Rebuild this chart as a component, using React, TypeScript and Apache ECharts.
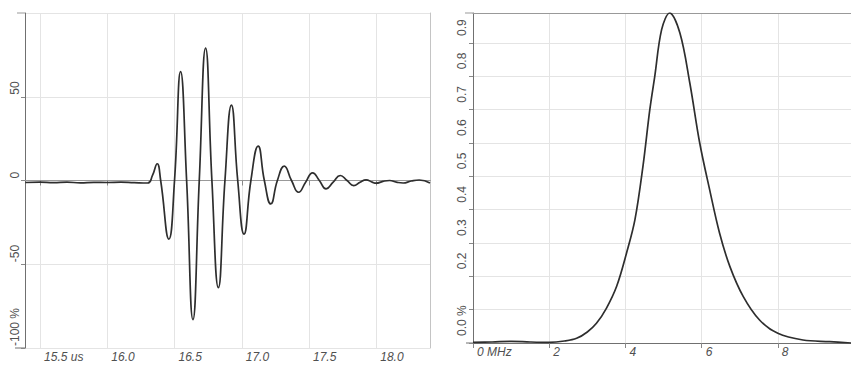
import React, { useEffect, useRef } from "react";
import * as echarts from "echarts";

// Left panel: pulse waveform (time in us, amplitude in %)
const waveTime = [
  15.39, 15.5, 15.6, 15.7, 15.8, 15.9, 16.0, 16.1, 16.2, 16.3,
  16.336, 16.371, 16.397, 16.458, 16.5, 16.545, 16.59, 16.637, 16.684, 16.731,
  16.778, 16.826, 16.875, 16.923, 16.97, 17.017, 17.068, 17.122, 17.168, 17.216,
  17.265, 17.316, 17.37, 17.423, 17.475, 17.527, 17.577, 17.627, 17.68, 17.733,
  17.783, 17.833, 17.88, 17.925, 17.97, 18.0, 18.05, 18.1, 18.15, 18.2,
  18.26, 18.32, 18.4,
];
const waveAmp = [
  -1.2, -1.0, -1.3, -1.0, -1.4, -1.1, -1.2, -1.0, -1.3, -1.5,
  3, 10, 0, -35, 0, 65, 0, -83, 0, 79,
  0, -64, 0, 45, 0, -32, 0, 20.5, 0, -14,
  0, 8.6, 0, -7, -1, 4.6, 0, -5, -1, 3,
  0, -3, -1, 0.4, -1, -1.6, -0.5, 0, -1, -1.5,
  -0.3, 0.3, -1.5,
];
const waveTicks = [15.5, 16.0, 16.5, 17.0, 17.5, 18.0];
const waveUnit = "us";

// Right panel: spectrum (frequency in MHz, normalised amplitude)
const specFreq = [
  0, 0.5, 1.0, 1.5, 2.0, 2.4, 2.72, 3.0, 3.24, 3.5,
  3.77, 4.03, 4.25, 4.46, 4.64, 4.77, 4.95, 5.16, 5.43, 5.69,
  5.95, 6.21, 6.47, 6.74, 7.09, 7.52, 8.0, 8.66, 9.36, 9.92,
];
const specAmp = [
  0.002, 0.003, 0.005, 0.003, 0.002, 0.006, 0.014, 0.033, 0.059, 0.104,
  0.17, 0.27, 0.37, 0.53, 0.7, 0.8, 0.94, 0.99, 0.93, 0.78,
  0.6, 0.46, 0.33, 0.23, 0.14, 0.069, 0.029, 0.009, 0.004, 0.0,
];
const specTicks = [0, 2, 4, 6, 8];
const specYTicks = [0, 0.1, 0.2, 0.3, 0.4, 0.5, 0.6, 0.7, 0.8, 0.9];
const specUnit = "MHz";

const FONT = "'Liberation Sans', Arial, sans-serif";
const AXIS = "#707070";
const GRID = "#e4e4e4";
const LABEL = "#505050";
const CURVE = "#2e2e2e";

export default function App() {
  const ref = useRef<HTMLDivElement>(null);
  useEffect(() => {
    if (!ref.current) return;
    const chart = echarts.init(ref.current, null, { renderer: "svg" });
    const xLabelBase = {
      align: "left",
      padding: [0, 0, 0, 4],
      margin: 3,
      color: LABEL,
      fontStyle: "italic",
      fontFamily: FONT,
      fontSize: 12,
    };
    const yLabelBase = {
      rotate: 90,
      align: "left",
      verticalAlign: "bottom",
      color: LABEL,
      fontFamily: FONT,
      fontSize: 12,
    };
    const option: any = {
      animation: false,
      backgroundColor: "#fff",
      grid: [
        { left: 25, top: 13, width: 405, height: 335 },
        { left: 473, top: 13, right: 0, height: 330 },
      ],
      xAxis: [
        {
          gridIndex: 0,
          type: "value",
          min: 15.388,
          max: 18.4,
          axisLine: { lineStyle: { color: AXIS, width: 1 } },
          axisTick: { show: true, length: 5, customValues: waveTicks, lineStyle: { color: "#888" } },
          axisLabel: {
            ...xLabelBase,
            customValues: waveTicks,
            formatter: (v: number) =>
              Math.abs(v - waveTicks[0]) < 1e-6 ? `${waveTicks[0].toFixed(1)} ${waveUnit}` : v.toFixed(1),
          },
          splitLine: { show: true, lineStyle: { color: GRID } },
        },
        {
          gridIndex: 0,
          type: "value",
          position: "top",
          min: 15.388,
          max: 18.4,
          axisLine: { show: true, lineStyle: { color: "#999" } },
          axisTick: { show: false },
          axisLabel: { show: false },
          splitLine: { show: false },
        },
        {
          gridIndex: 1,
          type: "value",
          min: 0,
          max: 9.92,
          axisLine: { lineStyle: { color: AXIS, width: 1 } },
          axisTick: { show: true, length: 5, customValues: specTicks, lineStyle: { color: "#888" } },
          axisLabel: {
            ...xLabelBase,
            customValues: specTicks,
            formatter: (v: number) => (v === 0 ? `0 ${specUnit}` : String(v)),
          },
          splitLine: { show: true, lineStyle: { color: GRID } },
        },
        {
          gridIndex: 1,
          type: "value",
          position: "top",
          min: 0,
          max: 9.92,
          axisLine: { show: true, lineStyle: { color: "#999" } },
          axisTick: { show: false },
          axisLabel: { show: false },
          splitLine: { show: false },
        },
      ],
      yAxis: [
        {
          gridIndex: 0,
          type: "value",
          min: -100,
          max: 100,
          interval: 50,
          axisLine: { show: true, lineStyle: { color: AXIS, width: 1 } },
          axisTick: { show: true, length: 4, lineStyle: { color: "#888" } },
          axisLabel: {
            ...yLabelBase,
            showMaxLabel: false,
            margin: 4,
            padding: [0, 0, 0, 2],
            formatter: (v: number) => (v === -100 ? "-100 %" : String(v)),
          },
          splitLine: { show: true, lineStyle: { color: GRID } },
        },
        {
          gridIndex: 0,
          type: "value",
          position: "right",
          min: -100,
          max: 100,
          axisLine: { show: true, lineStyle: { color: "#c4c4c4" } },
          axisTick: { show: false },
          axisLabel: { show: false },
          splitLine: { show: false },
        },
        {
          gridIndex: 1,
          type: "value",
          min: 0,
          max: 0.99,
          axisLine: { show: true, lineStyle: { color: AXIS, width: 1 } },
          axisTick: { show: true, length: 4, customValues: specYTicks, lineStyle: { color: "#888" } },
          axisLabel: {
            ...yLabelBase,
            customValues: specYTicks,
            margin: 5,
            padding: [0, 0, 0, 7],
            formatter: (v: number) => {
              const r = Math.round(v * 10) / 10;
              if (r === 0) return "0.0 %";
              if (r === 0.1) return "";
              return r.toFixed(1);
            },
          },
          splitLine: { show: true, lineStyle: { color: GRID } },
        },
      ],
      graphic: [
        { type: "line", shape: { x1: 15, y1: 348, x2: 25, y2: 348 }, style: { stroke: AXIS, lineWidth: 1 } },
        { type: "line", shape: { x1: 17, y1: 13, x2: 25, y2: 13 }, style: { stroke: "#999", lineWidth: 1 } },
        { type: "line", shape: { x1: 466, y1: 343, x2: 473, y2: 343 }, style: { stroke: AXIS, lineWidth: 1 } },
        { type: "line", shape: { x1: 465, y1: 13, x2: 473, y2: 13 }, style: { stroke: "#999", lineWidth: 1 } },
      ],
      series: [
        {
          type: "line",
          xAxisIndex: 0,
          yAxisIndex: 0,
          data: waveTime.map((t, i) => [t, waveAmp[i]]),
          showSymbol: false,
          smooth: 0.5,
          lineStyle: { color: CURVE, width: 1.7 },
        },
        {
          type: "line",
          xAxisIndex: 2,
          yAxisIndex: 2,
          data: specFreq.map((f, i) => [f, specAmp[i]]),
          showSymbol: false,
          smooth: 0.35,
          lineStyle: { color: CURVE, width: 1.7 },
        },
      ],
    };
    chart.setOption(option);
    return () => chart.dispose();
  }, []);
  return (
    <div
      ref={ref}
      style={{ position: "absolute", left: 0, top: 0, width: 851, height: 365 }}
    />
  );
}
